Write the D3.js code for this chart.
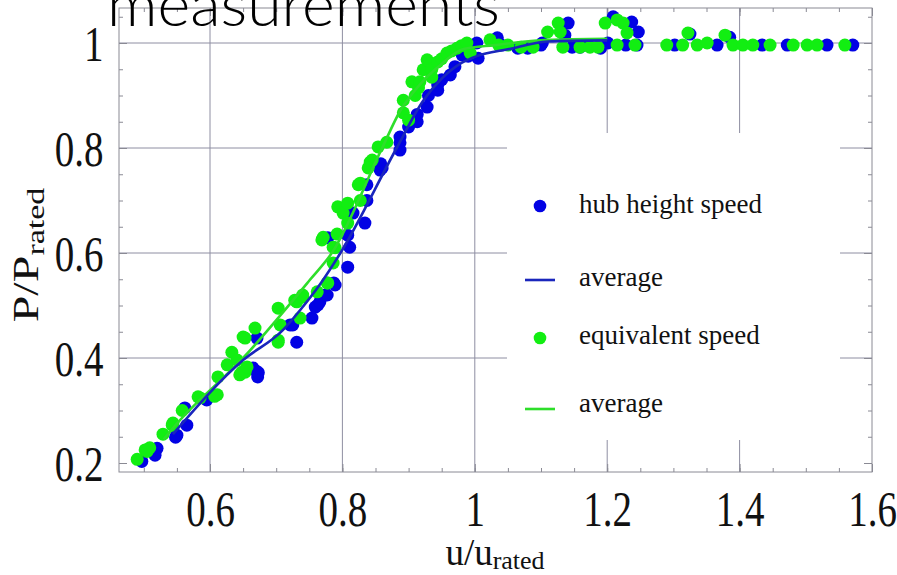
<!DOCTYPE html>
<html>
  <head>
    <meta charset="utf-8">
    <title>measurements</title>
<style>
  body { margin: 0; background-color: #fff; }
  #viz svg { display: block; }
  .ticklbl text { font-family: "Liberation Serif", "Times New Roman", serif; fill: #111; }
  .legend text { font-family: "Liberation Serif", "Times New Roman", serif; font-size: 27px; fill: #111; }
</style>
  </head>
  <body>
    <div id="viz"></div>

  <script src="https://d3js.org/d3.v7.min.js"></script>
  <script>

    // hub height speed measurements [u/u_rated, P/P_rated]
    var hubPoints = [
      [0.497,0.203],[0.52,0.228],[0.517,0.215],[0.55,0.253],[0.548,0.249],[0.565,0.272],
      [0.562,0.305],[0.595,0.32],[0.665,0.381],[0.672,0.364],[0.67,0.375],[0.671,0.438],
      [0.673,0.372],[0.725,0.463],[0.721,0.463],[0.731,0.43],[0.754,0.476],[0.759,0.497],
      [0.763,0.501],[0.766,0.507],[0.774,0.52],[0.777,0.52],[0.787,0.543],[0.789,0.539],
      [0.808,0.573],[0.811,0.611],[0.808,0.634],[0.778,0.629],[0.816,0.676],[0.834,0.657],
      [0.837,0.70],[0.837,0.73],[0.857,0.758],[0.86,0.762],[0.858,0.77],[0.887,0.81],
      [0.887,0.796],[0.913,0.85],[0.913,0.864],[0.887,0.821],[0.9,0.84],[0.928,0.878],
      [0.93,0.9],[0.944,0.91],[0.944,0.92],[0.95,0.93],[0.963,0.939],[0.97,0.955],
      [0.981,0.977],[0.99,0.975],[1.003,1.0],[1.005,0.971],
      [1.034,1.01],[1.04,0.996],[1.065,0.99],[1.08,0.99],[1.1,0.996],[1.102,1.0],
      [1.141,1.038],[1.136,1.015],[1.147,0.992],[1.159,0.992],[1.17,0.996],[1.19,0.99],
      [1.201,1.0],[1.209,1.05],[1.237,1.04],[1.247,1.021],[1.245,0.996],[1.228,0.996],
      [1.302,0.996],[1.325,1.017],[1.366,0.996],[1.385,1.011],[1.434,0.996],[1.472,0.996],
      [1.532,0.996],[1.571,0.996]
    ];

    // equivalent speed measurements
    var eqPoints = [
      [0.49,0.207],[0.502,0.225],[0.509,0.229],[0.505,0.222],[0.529,0.255],[0.543,0.272],
      [0.544,0.276],[0.558,0.30],[0.582,0.326],[0.585,0.324],[0.607,0.327],[0.611,0.33],
      [0.612,0.364],[0.626,0.387],[0.633,0.411],[0.641,0.396],[0.645,0.368],[0.648,0.373],
      [0.653,0.373],[0.65,0.44],[0.653,0.438],[0.668,0.457],[0.656,0.383],[0.703,0.495],
      [0.706,0.463],[0.703,0.43],[0.703,0.434],[0.728,0.51],[0.731,0.507],[0.736,0.476],
      [0.74,0.516],[0.74,0.52],[0.762,0.526],[0.777,0.543],[0.778,0.543],[0.769,0.625],
      [0.771,0.63],[0.786,0.611],[0.786,0.581],[0.789,0.61],[0.792,0.636],[0.793,0.688],
      [0.801,0.676],[0.808,0.695],[0.808,0.657],[0.824,0.73],[0.827,0.733],[0.827,0.70],
      [0.842,0.773],[0.845,0.777],[0.839,0.762],[0.854,0.802],[0.867,0.811],[0.892,0.867],
      [0.9,0.853],[0.892,0.891],[0.905,0.926],[0.91,0.90],[0.915,0.915],[0.917,0.926],
      [0.922,0.949],[0.928,0.968],[0.935,0.935],[0.935,0.95],[0.944,0.964],[0.95,0.97],
      [0.958,0.981],[0.965,0.985],[0.973,0.99],[0.98,0.995],[0.988,1.0],[0.993,0.981],
      [1.023,1.006],
      [1.036,0.996],[1.05,0.996],[1.07,0.992],[1.088,0.992],[1.11,1.021],[1.126,1.038],
      [1.129,1.021],[1.133,0.992],[1.159,0.992],[1.174,0.992],[1.186,0.992],[1.197,1.038],
      [1.215,1.044],[1.224,1.038],[1.23,1.019],[1.215,0.996],[1.242,0.996],[1.29,0.996],
      [1.314,0.996],[1.322,1.019],[1.336,0.996],[1.351,1.0],[1.378,1.015],[1.39,0.996],
      [1.405,0.996],[1.42,0.996],[1.446,0.996],[1.481,0.996],[1.502,0.996],[1.517,0.996],
      [1.559,0.996]
    ];

    // averages
    var hubAvg = [
      [0.544,0.255],[0.65,0.396],[0.71,0.453],[0.736,0.491],[0.766,0.54],[0.797,0.60],
      [0.882,0.80],[0.922,0.89],[0.95,0.932],[0.98,0.962],[1.003,0.975],[1.05,0.988],
      [1.11,1.003],[1.2,1.005]
    ];
    var eqAvg = [
      [0.53,0.245],[0.55,0.275],[0.65,0.40],[0.751,0.549],[0.784,0.60],[0.86,0.80],
      [0.887,0.87],[0.92,0.925],[0.95,0.96],[0.982,0.988],[1.03,0.996],[1.11,1.006],
      [1.2,1.008]
    ];

    var xTicks = [0.6, 0.8, 1, 1.2, 1.4, 1.6];
    var xTickLabels = ["0.6", "0.8", "1", "1.2", "1.4", "1.6"];
    var yTicks = [0.2, 0.4, 0.6, 0.8, 1];
    var yTickLabels = ["0.2", "0.4", "0.6", "0.8", "1"];
    var xGrid = [0.6, 0.8, 1, 1.2, 1.4];
    var yGrid = [0.4, 0.6, 0.8, 1];
    var legendItems = ["hub height speed", "average", "equivalent speed", "average"];

    (function() {
      var width = 897, height = 575;
      var blue = "#0202e4", green = "#12ee12";
      var gridColor = "#8e8ea2", frameColor = "#8a8a94";

      var x = d3.scaleLinear().domain([0.6, 1.6]).range([210, 872]);
      var y = d3.scaleLinear().domain([0.2, 1]).range([463, 43]);

      var left = 119, right = 872, top = 8, bottom = 472;
      x.domain([x.invert(left), 1.6]).range([left, right]);
      y.domain([y.invert(bottom), y.invert(top)]).range([bottom, top]);

      var minorX = d3.range(0.5, 1.6001, 0.05).filter(function(d) { return d > x.domain()[0]; });
      var minorY = d3.range(0.2, 1.06, 0.05).filter(function(d) { return d > y.domain()[0]; });

      var svg = d3.select("#viz").append("svg")
          .attr("width", width)
          .attr("height", height);

      svg.append("rect").attr("width", width).attr("height", height).attr("fill", "#fff");

      // grid
      svg.append("g").selectAll("line").data(xGrid).enter().append("line")
          .attr("x1", function(d) { return x(d); }).attr("x2", function(d) { return x(d); })
          .attr("y1", top).attr("y2", bottom)
          .attr("stroke", gridColor).attr("stroke-width", 1);
      svg.append("g").selectAll("line").data(yGrid).enter().append("line")
          .attr("y1", function(d) { return y(d); }).attr("y2", function(d) { return y(d); })
          .attr("x1", left).attr("x2", right)
          .attr("stroke", gridColor).attr("stroke-width", 1);

      // legend background hides the grid
      svg.append("rect")
          .attr("x", 507).attr("y", 133).attr("width", 333).attr("height", 307)
          .attr("fill", "#fff");

      // frame with inward ticks
      var frame = svg.append("g").attr("class", "frame");
      function ticks(axis, vals, len, tr) {
        frame.append("g").attr("transform", tr)
            .call(axis.tickValues(vals).tickSizeInner(-len).tickSizeOuter(0).tickFormat(""));
      }
      ticks(d3.axisBottom(x), xTicks, 8, "translate(0," + bottom + ")");
      ticks(d3.axisBottom(x), minorX, 4, "translate(0," + bottom + ")");
      ticks(d3.axisTop(x), xTicks, 8, "translate(0," + top + ")");
      ticks(d3.axisTop(x), minorX, 4, "translate(0," + top + ")");
      ticks(d3.axisLeft(y), yTicks, 8, "translate(" + left + ",0)");
      ticks(d3.axisLeft(y), minorY, 4, "translate(" + left + ",0)");
      ticks(d3.axisRight(y), yTicks, 8, "translate(" + right + ",0)");
      ticks(d3.axisRight(y), minorY, 4, "translate(" + right + ",0)");
      frame.selectAll(".domain").remove();
      frame.selectAll("line").attr("stroke", frameColor);
      svg.append("rect")
          .attr("x", left).attr("y", top).attr("width", right - left).attr("height", bottom - top)
          .attr("fill", "none").attr("stroke", frameColor).attr("stroke-width", 1);

      // tick labels
      svg.append("g").attr("class", "ticklbl xl").attr("transform", "translate(0," + bottom + ")")
          .call(d3.axisBottom(x).tickValues(xTicks).tickSize(0).tickPadding(19)
            .tickFormat(function(d, i) { return xTickLabels[i]; }));
      svg.append("g").attr("class", "ticklbl yl").attr("transform", "translate(" + left + ",0)")
          .call(d3.axisLeft(y).tickValues(yTicks).tickSize(0).tickPadding(20)
            .tickFormat(function(d, i) { return yTickLabels[i]; }));
      svg.selectAll(".ticklbl .domain").remove();
      svg.selectAll(".ticklbl text")
          .attr("font-family", null)
          .style("font-size", "50px")
          .attr("transform", "scale(0.78,1)");
      svg.selectAll(".yl text").attr("dy", "0.34em");

      // points
      svg.append("g").selectAll("circle").data(hubPoints).enter().append("circle")
          .attr("cx", function(d) { return x(d[0]); })
          .attr("cy", function(d) { return y(d[1]); })
          .attr("r", 6.5).attr("fill", blue);
      svg.append("g").selectAll("circle").data(eqPoints).enter().append("circle")
          .attr("cx", function(d) { return x(d[0]); })
          .attr("cy", function(d) { return y(d[1]); })
          .attr("r", 6.5).attr("fill", green);

      // averages
      var line = d3.line()
          .x(function(d) { return x(d[0]); })
          .y(function(d) { return y(d[1]); })
          .curve(d3.curveMonotoneX);
      svg.append("path").datum(eqAvg).attr("d", line)
          .attr("fill", "none").attr("stroke", "#2ede2a").attr("stroke-width", 2.6);
      svg.append("path").datum(hubAvg).attr("d", line)
          .attr("fill", "none").attr("stroke", "#1a26bc").attr("stroke-width", 2.6);

      // legend
      var legend = svg.append("g").attr("class", "legend");
      var ly = [206, 280, 338, 409];
      legend.append("circle").attr("cx", 540).attr("cy", ly[0]).attr("r", 6.3).attr("fill", blue);
      legend.append("line").attr("x1", 525).attr("x2", 555).attr("y1", ly[1]).attr("y2", ly[1])
          .attr("stroke", "#1a26bc").attr("stroke-width", 2.6);
      legend.append("circle").attr("cx", 540).attr("cy", ly[2]).attr("r", 6.3).attr("fill", green);
      legend.append("line").attr("x1", 525).attr("x2", 555).attr("y1", ly[3]).attr("y2", ly[3])
          .attr("stroke", "#2ede2a").attr("stroke-width", 2.6);
      legend.selectAll("text").data(legendItems).enter().append("text")
          .attr("x", 579)
          .attr("y", function(d, i) { return [213, 286, 344, 412][i]; })
          .text(function(d) { return d; });

      // axis titles
      var serif = "'Liberation Serif', 'Times New Roman', serif";
      var xt = svg.append("text")
          .attr("x", 495).attr("y", 565)
          .attr("text-anchor", "middle")
          .style("font-family", serif).style("font-size", "37px").attr("fill", "#111");
      xt.append("tspan").text("u/u");
      xt.append("tspan").attr("dy", 4).style("font-size", "26px").text("rated");

      var yt = svg.append("text")
          .attr("transform", "translate(38,255) rotate(-90) scale(1,0.74)")
          .attr("text-anchor", "middle")
          .style("font-family", serif).style("font-size", "48px").attr("fill", "#111");
      yt.append("tspan").text("P/P");
      yt.append("tspan").attr("dy", 8).style("font-size", "34px").text("rated");

      // title, cut off at the top edge
      svg.append("text")
          .attr("x", 107).attr("y", 26)
          .attr("textLength", 393).attr("lengthAdjust", "spacingAndGlyphs")
          .style("font-family", "Lato, 'Open Sans', sans-serif")
          .style("font-weight", 300)
          .style("font-size", "60px")
          .attr("fill", "#000")
          .text("measurements");
    })();

  </script>
  </body>
</html>
